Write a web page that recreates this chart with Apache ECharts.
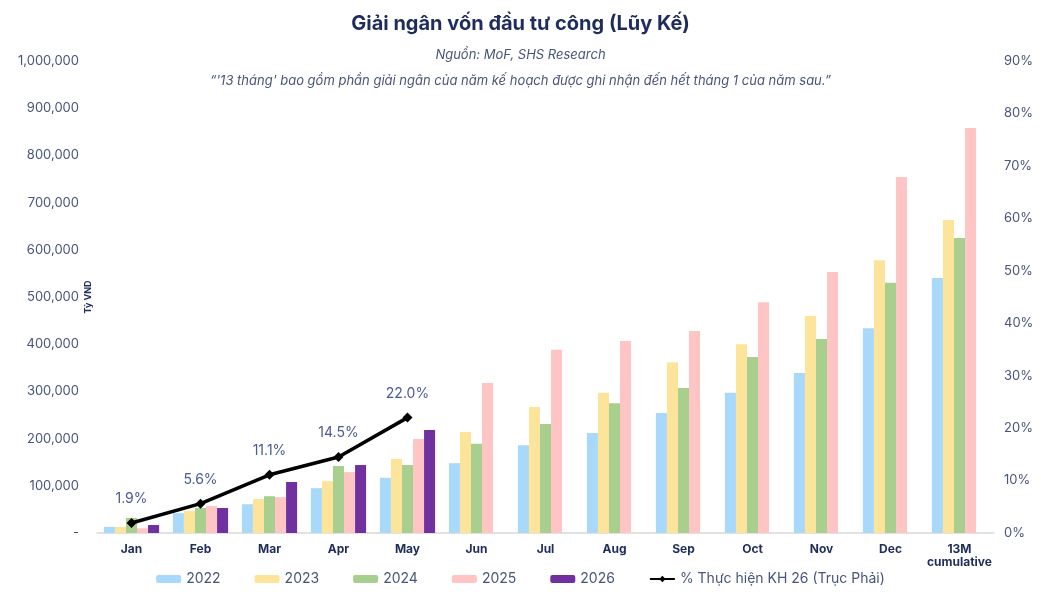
<!DOCTYPE html>
<html>
<head>
<meta charset="utf-8">
<script src="https://cdn.jsdelivr.net/npm/echarts@6/dist/echarts.min.js"></script>
<style>
  html, body { margin: 0; padding: 0; background: #fff; }
  #main { width: 1041px; height: 595px; }
</style>
</head>
<body>
<div id="main"></div>
<script>
// categories and values (Tỷ VND, cumulative)
const months = ['Jan', 'Feb', 'Mar', 'Apr', 'May', 'Jun', 'Jul', 'Aug', 'Sep', 'Oct', 'Nov', 'Dec', '13M\ncumulative'];
const y2022 = [13000, 42000, 61000, 95000, 117000, 148000, 186000, 212000, 254000, 297000, 339000, 434000, 540000];
const y2023 = [13000, 47000, 72000, 110000, 157000, 214000, 267000, 297000, 362000, 400000, 460000, 578000, 663000];
const y2024 = [32000, 53000, 78000, 142000, 144000, 189000, 231000, 275000, 307000, 373000, 411000, 530000, 625000];
const y2025 = [10000, 57000, 76000, 129000, 199000, 318000, 388000, 407000, 428000, 489000, 553000, 754000, 858000];
const y2026 = [17000, 53000, 108000, 144000, 218000, null, null, null, null, null, null, null, null];
const pctKH26 = [1.9, 5.6, 11.1, 14.5, 22.0, null, null, null, null, null, null, null, null];

const navy = '#1f2d5c';
const labelGrey = '#46557a';
const font = 'Inter, "Noto Sans", sans-serif';

const barColors = ['#a9d9fa', '#fde49b', '#a8cf8d', '#ffc4c4', '#7030a0'];
const barNames = ['2022', '2023', '2024', '2025', '2026'];
const barData = [y2022, y2023, y2024, y2025, y2026];

const chart = echarts.init(document.getElementById('main'));

const series = barData.map((d, i) => ({
  name: barNames[i],
  type: 'bar',
  data: d,
  barGap: '0%',
  barCategoryGap: '20%',
  itemStyle: { color: barColors[i] }
}));

series.push({
  name: '% Thực hiện KH 26 (Trục Phải)',
  type: 'line',
  yAxisIndex: 1,
  data: pctKH26,
  symbol: 'diamond',
  symbolSize: 10,
  lineStyle: { color: '#000', width: 3.5 },
  itemStyle: { color: '#000' },
  label: {
    show: true,
    position: 'top',
    distance: 12,
    color: '#4a5a92',
    fontSize: 14,
    fontFamily: font,
    formatter: p => p.value.toFixed(1) + '%'
  },
  z: 5
});

chart.setOption({
  animation: false,
  title: [
    {
      text: 'Giải ngân vốn đầu tư công (Lũy Kế)',
      left: 'center',
      top: 9,
      textStyle: { color: navy, fontSize: 20, fontWeight: 'bold', fontFamily: font }
    },
    {
      text: 'Nguồn: MoF, SHS Research',
      left: 'center',
      top: 44,
      textStyle: { color: labelGrey, fontSize: 13, fontStyle: 'italic', fontWeight: 'normal', fontFamily: font }
    },
    {
      text: "“'13 tháng' bao gồm phần giải ngân của năm kế hoạch được ghi nhận đến hết tháng 1 của năm sau.”",
      left: 'center',
      top: 70,
      textStyle: { color: labelGrey, fontSize: 13, fontStyle: 'italic', fontWeight: 'normal', fontFamily: font }
    }
  ],
  graphic: [
    {
      type: 'text',
      x: 88,
      y: 297,
      rotation: Math.PI / 2,
      style: {
        text: 'Tỷ VND',
        fill: navy,
        font: 'bold 9px ' + font,
        align: 'center',
        verticalAlign: 'middle'
      }
    }
  ],
  legend: {
    bottom: 4,
    left: 'center',
    itemWidth: 25,
    itemHeight: 8,
    itemGap: 34,
    textStyle: { color: labelGrey, fontSize: 14, fontFamily: font },
    data: barNames.concat(['% Thực hiện KH 26 (Trục Phải)'])
  },
  grid: { left: 97, right: 47, top: 61, bottom: 62, containLabel: false },
  xAxis: {
    type: 'category',
    data: months,
    axisLine: { lineStyle: { color: '#d9d9d9', width: 1.5 } },
    axisTick: { show: false },
    axisLabel: { interval: 0, color: navy, fontSize: 12, fontWeight: 'bold', fontFamily: font, margin: 10, lineHeight: 13 }
  },
  yAxis: [
    {
      type: 'value',
      min: 0,
      max: 1000000,
      interval: 100000,
      splitLine: { show: false },
      axisLine: { show: false },
      axisTick: { show: false },
      axisLabel: {
        color: labelGrey,
        fontSize: 13,
        fontFamily: font,
        margin: 18,
        formatter: v => v === 0 ? '-' : v.toLocaleString('en-US')
      }
    },
    {
      type: 'value',
      min: 0,
      max: 90,
      interval: 10,
      splitLine: { show: false },
      axisLine: { show: false },
      axisTick: { show: false },
      axisLabel: { color: labelGrey, fontSize: 13, fontFamily: font, margin: 10, formatter: '{value}%' }
    }
  ],
  series: series
});
</script>
</body>
</html>
